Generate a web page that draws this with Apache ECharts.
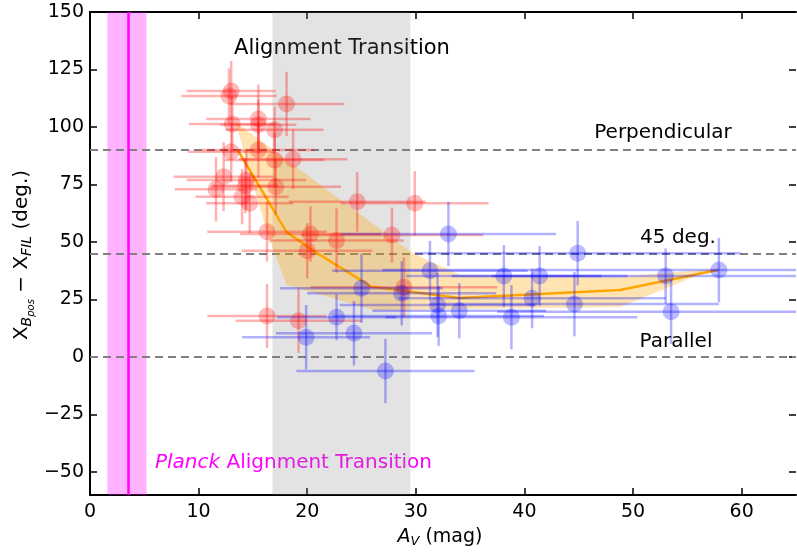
<!DOCTYPE html>
<html>
<head>
<meta charset="utf-8">
<script src="https://cdn.jsdelivr.net/npm/echarts@6/dist/echarts.min.js"></script>
<style>
html, body { margin: 0; padding: 0; background: #fff; }
#main { width: 797px; height: 552px; }
</style>
</head>
<body>
<div id="main"></div>
<script>
// axis ticks
var xTicks = [0, 10, 20, 30, 40, 50, 60];
var yTicks = [-50, -25, 0, 25, 50, 75, 100, 125, 150];
// reference lines / spans
var refLines = [0, 45, 90];
var planckSpan = [1.6, 5.2];
var planckLine = 3.5;
var transSpan = [16.8, 29.5];

// red sample (x, y, errors)
var redX = [13.0, 12.8, 18.1, 13.1, 15.5, 15.5, 17.0, 13.0, 15.5, 17.0, 18.7, 12.3, 11.6, 14.4, 14.3, 17.1, 14.0, 14.7, 16.3, 20.3, 20.0, 24.6, 29.9, 22.7, 27.8, 16.3, 19.2, 28.9];
var redY = [115.7, 113.5, 110.0, 101.3, 103.5, 101.0, 98.8, 89.2, 90.0, 85.6, 86.0, 78.4, 72.9, 77.0, 74.5, 74.0, 69.7, 66.8, 54.5, 53.5, 46.2, 67.5, 66.8, 50.6, 53.0, 17.8, 15.8, 30.3];
var redXErr = [4.1, 4.4, 5.3, 4.0, 4.8, 3.5, 4.5, 4.0, 5.2, 4.6, 5.0, 4.6, 3.8, 5.5, 3.0, 6.0, 4.3, 4.0, 5.5, 6.5, 6.0, 6.3, 6.8, 6.2, 8.4, 5.5, 5.8, 8.6];
var redYErr = [13, 12, 14, 12, 15, 11, 10, 13, 12, 12, 13, 15, 14, 13, 12, 12, 12, 13, 13, 12, 12, 13, 14, 14, 12, 14, 14, 13];

// blue sample
var blueX = [33.0, 31.3, 19.9, 22.7, 24.3, 25.0, 28.7, 27.2, 32.0, 32.1, 34.0, 38.1, 38.8, 40.7, 41.4, 44.6, 44.9, 53.0, 53.5, 57.9];
var blueY = [53.5, 37.5, 8.6, 17.3, 10.3, 29.9, 27.7, -6.1, 22.6, 17.8, 20.1, 35.2, 17.3, 25.5, 35.2, 23.0, 45.1, 35.2, 19.7, 37.8];
var blueXErr = [9.9, 9.0, 5.9, 5.5, 7.2, 7.5, 8.7, 8.2, 9.0, 9.7, 8.0, 9.0, 11.6, 12.3, 8.1, 13.3, 15.0, 16.0, 16.0, 31.0];
var blueYErr = [14, 13, 14, 10, 14, 15, 14, 14, 14, 13, 12, 13.5, 14, 13, 13, 14, 14, 12, 14, 14];

// running median and its spread
var medX = [13.6, 18.1, 20.8, 25.9, 34.0, 48.8, 57.8];
var medY = [90.0, 54.3, 45.5, 30.6, 25.7, 29.1, 37.8];
var bandUpX = [13.4, 29.7, 34.1, 48.8, 57.4];
var bandUpY = [102.2, 45.2, 35.7, 34.8, 38.3];
var bandLowX = [16.3, 18.1, 26.1, 48.8];
var bandLowY = [53.9, 31.3, 20.4, 21.7];

var FONT = 'DejaVu Sans';

function zip(a, b, c, d) {
    return a.map(function (v, i) {
        return c ? [v, b[i], c[i], d[i]] : [v, b[i]];
    });
}

function errorBars(color) {
    return function (params, api) {
        var x = api.value(0), y = api.value(1), ex = api.value(2), ey = api.value(3);
        var l = api.coord([x - ex, y]), r = api.coord([x + ex, y]);
        var t = api.coord([x, y + ey]), b = api.coord([x, y - ey]);
        var st = { stroke: color, lineWidth: 2.5 };
        return {
            type: 'group',
            children: [
                { type: 'line', shape: { x1: l[0], y1: l[1], x2: r[0], y2: r[1] }, style: st },
                { type: 'line', shape: { x1: t[0], y1: t[1], x2: b[0], y2: b[1] }, style: st }
            ]
        };
    };
}

function frameAxis(pos, lo, hi, ticks, labels) {
    var ax = {
        type: 'value', min: lo, max: hi, position: pos,
        axisLine: { onZero: false, lineStyle: { color: '#000', width: 2 } },
        axisTick: { inside: true, length: 7, customValues: ticks, lineStyle: { color: '#000', width: 1.5 } },
        axisLabel: { show: false },
        splitLine: { show: false }
    };
    if (labels) ax.axisLabel = labels;
    return ax;
}

var bandPoly = zip(bandUpX, bandUpY).concat(zip(bandLowX, bandLowY).reverse());

// right spine falls just outside the picture, only its ticks show
var rightAxis = frameAxis('right', -60, 150, yTicks);
rightAxis.axisLine.show = false;

var option = {
    animation: false,
    grid: { left: 90, right: 1, top: 12, bottom: 57 },
    xAxis: [
        frameAxis('bottom', 0, 65, xTicks, { customValues: xTicks, color: '#000', fontSize: 19, fontFamily: FONT, margin: 8 }),
        frameAxis('top', 0, 65, xTicks)
    ],
    yAxis: [
        frameAxis('left', -60, 150, yTicks, {
            customValues: yTicks, color: '#000', fontSize: 19, fontFamily: FONT, margin: 6,
            formatter: function (v) { return String(v).replace('-', '\u2212'); }
        }),
        rightAxis
    ],
    series: [{
        // spread of the median
        type: 'custom',
        z: 3,
        silent: true,
        data: bandPoly,
        renderItem: function (params, api) {
            if (params.dataIndex !== 0) return;
            var pts = bandPoly.map(function (p) { return api.coord(p); });
            return { type: 'polygon', shape: { points: pts }, style: { fill: 'rgba(255,165,0,0.3)' } };
        },
        markArea: {
            silent: true, z: 1,
            data: [
                [{ xAxis: planckSpan[0], itemStyle: { color: 'rgba(255,0,255,0.3)' } }, { xAxis: planckSpan[1] }],
                [{ xAxis: transSpan[0], itemStyle: { color: 'rgba(128,128,128,0.22)' } }, { xAxis: transSpan[1] }]
            ]
        },
        markLine: {
            silent: true, z: 2, symbol: ['none', 'none'], label: { show: false },
            lineStyle: { color: '#808080', width: 2, type: [8, 5] },
            data: refLines.map(function (v) { return { yAxis: v }; }).concat([
                { xAxis: planckLine, lineStyle: { color: '#ff00ff', width: 2.5, type: 'solid' } }
            ])
        }
    }, {
        type: 'line',
        z: 4,
        data: zip(medX, medY),
        symbol: 'none',
        lineStyle: { color: '#ffa500', width: 2.5 }
    }, {
        type: 'custom',
        z: 5,
        data: zip(redX, redY, redXErr, redYErr),
        encode: { x: 0, y: 1 },
        renderItem: errorBars('rgba(255,0,0,0.3)'),
        clip: true
    }, {
        type: 'scatter',
        z: 6,
        data: zip(redX, redY),
        symbolSize: 17,
        itemStyle: { color: 'rgba(255,0,0,0.33)' }
    }, {
        type: 'custom',
        z: 5,
        data: zip(blueX, blueY, blueXErr, blueYErr),
        encode: { x: 0, y: 1 },
        renderItem: errorBars('rgba(0,0,255,0.3)'),
        clip: true
    }, {
        type: 'scatter',
        z: 6,
        data: zip(blueX, blueY),
        symbolSize: 17,
        itemStyle: { color: 'rgba(0,0,255,0.33)' }
    }],
    graphic: [
        { type: 'text', x: 342, y: 49, style: { text: 'Alignment Transition', font: '21px ' + FONT, fill: '#000', align: 'center', verticalAlign: 'middle' } },
        { type: 'text', x: 663, y: 133, style: { text: 'Perpendicular', font: '20px ' + FONT, fill: '#000', align: 'center', verticalAlign: 'middle' } },
        { type: 'text', x: 678, y: 238, style: { text: '45 deg.', font: '20px ' + FONT, fill: '#000', align: 'center', verticalAlign: 'middle' } },
        { type: 'text', x: 676, y: 342, style: { text: 'Parallel', font: '20px ' + FONT, fill: '#000', align: 'center', verticalAlign: 'middle' } },
        {
            type: 'text', x: 155, y: 463,
            style: {
                text: '{i|Planck} {m|Alignment Transition}',
                align: 'left', verticalAlign: 'middle',
                rich: {
                    i: { fontFamily: FONT, fontSize: 20, fontStyle: 'italic', fill: '#ff00ff', lineHeight: 24 },
                    m: { fontFamily: FONT, fontSize: 20, fill: '#ff00ff', lineHeight: 24 }
                },
                font: '20px ' + FONT, fill: '#ff00ff'
            }
        },
        {
            type: 'text', x: 440, y: 537,
            style: {
                text: '{i|A}{s|V}{m| (mag)}',
                align: 'center', verticalAlign: 'middle',
                rich: {
                    i: { fontFamily: FONT, fontSize: 19, fontStyle: 'italic', fill: '#000', lineHeight: 26 },
                    s: { fontFamily: FONT, fontSize: 13, fontStyle: 'italic', fill: '#000', lineHeight: 26, padding: [10, 0, 0, 0] },
                    m: { fontFamily: FONT, fontSize: 19, fill: '#000', lineHeight: 26 }
                }
            }
        },
        {
            type: 'text', x: 22, y: 255, rotation: Math.PI / 2,
            style: {
                text: '{m|X}{s|B}{ss|pos}{m| \u2212 X}{s|FIL}{m| (deg.)}',
                align: 'center', verticalAlign: 'middle',
                rich: {
                    m: { fontFamily: FONT, fontSize: 20, fill: '#000', lineHeight: 26 },
                    s: { fontFamily: FONT, fontSize: 14, fontStyle: 'italic', fill: '#000', lineHeight: 26, padding: [10, 0, 0, 0] },
                    ss: { fontFamily: FONT, fontSize: 10, fontStyle: 'italic', fill: '#000', lineHeight: 26, padding: [18, 0, 0, 0] }
                }
            }
        }
    ]
};

var chart = echarts.init(document.getElementById('main'));
chart.setOption(option);
</script>
</body>
</html>
